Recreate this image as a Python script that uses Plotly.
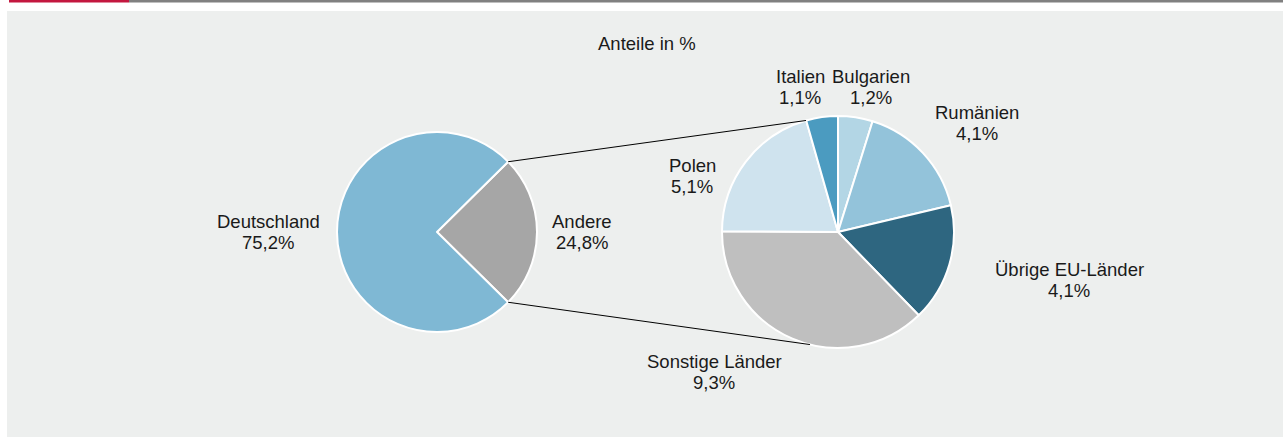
import math
import plotly.graph_objects as go

# ---- data ----
main_labels = ["Andere", "Deutschland"]
main_values = [24.8, 75.2]
main_text = ["24,8%", "75,2%"]
main_colors = ["#a6a6a6", "#7fb8d4"]

sub_labels = ["Bulgarien", "Rumänien", "Übrige EU-Länder", "Sonstige Länder", "Polen", "Italien"]
sub_values = [1.2, 4.1, 4.1, 9.3, 5.1, 1.1]
sub_text = ["1,2%", "4,1%", "4,1%", "9,3%", "5,1%", "1,1%"]
sub_colors = ["#b3d6e5", "#93c3da", "#2e6680", "#bfbfbf", "#cfe3ee", "#4b9bc0"]

title_text = "Anteile in %"

W, H = 1283, 437
FONT = "Liberation Sans, Arial, sans-serif"
FS = 18.5
LSP = 21
TXT = "#1a1a1a"

# geometry (pixels, from top-left)
c1x, c1y, r1 = 437, 232, 100
c2x, c2y, r2 = 838, 232, 116

def dom(cx, cy, r):
    return dict(x=[(cx - r) / W, (cx + r) / W], y=[(H - cy - r) / H, (H - cy + r) / H])

andere_share = main_values[0] / sum(main_values)
rot1 = 90 - andere_share * 360 / 2

fig = go.Figure()
fig.add_trace(go.Pie(
    labels=main_labels, values=main_values, sort=False, direction="clockwise",
    rotation=rot1, domain=dom(c1x, c1y, r1), textinfo="none", hoverinfo="label+percent",
    marker=dict(colors=main_colors, line=dict(color="white", width=2)), showlegend=False,
))
fig.add_trace(go.Pie(
    labels=sub_labels, values=sub_values, sort=False, direction="clockwise",
    rotation=0, domain=dom(c2x, c2y, r2), textinfo="none", hoverinfo="label+value",
    marker=dict(colors=sub_colors, line=dict(color="white", width=2)), showlegend=False,
))

def px(x): return x / W
def py(y): return 1 - y / H

shapes = [
    dict(type="rect", xref="paper", yref="paper", x0=px(7), x1=px(W), y0=py(H), y1=py(11),
         fillcolor="#edefee", line=dict(width=0), layer="below"),
    dict(type="rect", xref="paper", yref="paper", x0=px(129), x1=px(W), y0=py(2.5), y1=py(0),
         fillcolor="#808080", line=dict(width=0)),
    dict(type="rect", xref="paper", yref="paper", x0=px(9), x1=px(129), y0=py(2.5), y1=py(0),
         fillcolor="#c3173f", line=dict(width=0)),
]

# connector lines from the edges of the "Andere" slice to the secondary pie
half = math.radians(andere_share * 360 / 2)
pts_left = [(c1x + r1 * math.sin(math.pi / 2 - half), c1y - r1 * math.cos(math.pi / 2 - half)),
            (c1x + r1 * math.sin(math.pi / 2 + half), c1y - r1 * math.cos(math.pi / 2 + half))]
a_top, a_bot = math.radians(-16), math.radians(194)
pts_right = [(c2x + r2 * math.sin(a_top), c2y - r2 * math.cos(a_top)),
             (c2x + r2 * math.sin(a_bot), c2y - r2 * math.cos(a_bot))]
for (x0, y0), (x1, y1) in zip(pts_left, pts_right):
    shapes.append(dict(type="line", xref="paper", yref="paper", x0=px(x0), y0=py(y0),
                       x1=px(x1), y1=py(y1), line=dict(color="#000000", width=1)))

label_pos_main = {"Deutschland": (268, 232), "Andere": (582, 232)}
label_pos_sub = {"Italien": (800, 87), "Bulgarien": (871, 87), "Rumänien": (977, 123),
                 "Polen": (692, 176), "Übrige EU-Länder": (1069, 280), "Sonstige Länder": (714, 372)}

def ann(text, x, y):
    return dict(text=text, x=px(x), y=py(y), xref="paper", yref="paper",
                showarrow=False, xanchor="center", yanchor="middle", align="center",
                font=dict(family=FONT, size=FS, color=TXT))

annotations = [ann(title_text, 647, 43)]
for labs, texts, pos in [(main_labels, main_text, label_pos_main), (sub_labels, sub_text, label_pos_sub)]:
    for lab, t in zip(labs, texts):
        x, y = pos[lab]
        annotations.append(ann(lab, x, y - LSP / 2))
        annotations.append(ann(t, x, y + LSP / 2))

fig.update_layout(
    width=W, height=H, margin=dict(l=0, r=0, t=0, b=0),
    paper_bgcolor="white", plot_bgcolor="white",
    shapes=shapes, annotations=annotations, showlegend=False,
)

fig.write_html("out.html", config={"displayModeBar": False},
               post_script="document.body.style.margin='0';document.body.style.overflow='hidden';")
